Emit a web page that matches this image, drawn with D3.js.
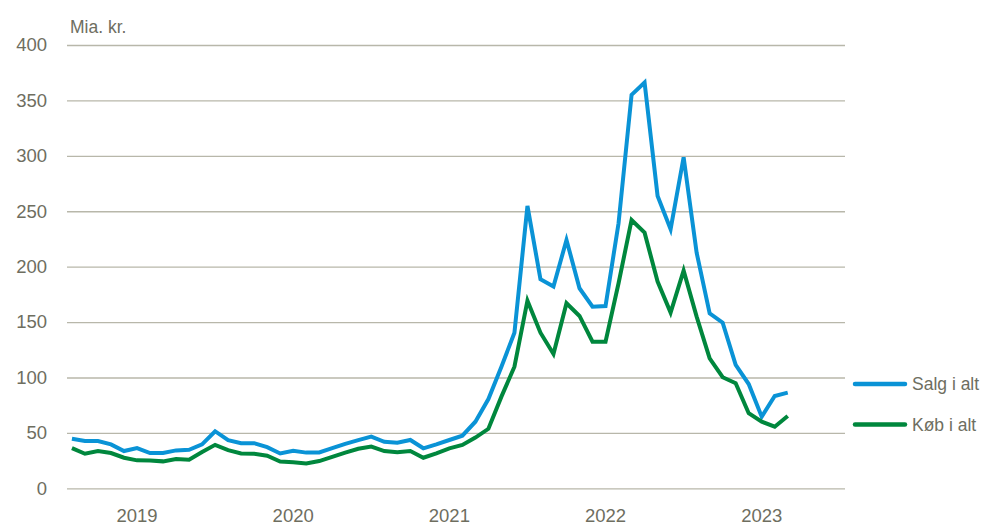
<!DOCTYPE html>
<meta charset="UTF-8">
<style>
body { margin: 0; background: #fff; }
text { font-family: "Liberation Sans", Arial, sans-serif; fill: #6e6e5f; }
.grid line { stroke: #b8b7aa; stroke-width: 1.3px; }
.series { fill: none; stroke-width: 4px; stroke-linejoin: miter; }
</style>
<body>
<script src="https://d3js.org/d3.v7.min.js"></script>
<script>

// monthly, Aug 2018 .. Mar 2023
var startMonth = new Date(2018, 7, 1);
var yearLabels = ["2019", "2020", "2021", "2022", "2023"];
var yTicks = [0, 50, 100, 150, 200, 250, 300, 350, 400];

var salg = [44.7, 42.6, 42.6, 39.6, 33.6, 36.3, 31.8, 31.8, 34.2, 34.8, 39.6, 51.5,
            43.4, 40.7, 40.7, 37.1, 31.4, 33.8, 32.2, 32.3, 36.2, 40.1, 43.5, 46.6,
            42.0, 41.2, 43.6, 36.1, 39.7, 43.6, 47.5, 60.1, 80.5, 109.7, 140.4, 254.8,
            188.6, 182.0, 224.1, 180.5, 163.9, 164.5, 239.2, 355.0, 366.1, 263.8, 233.8, 298.7,
            212.6, 157.9, 149.5, 111.3, 94.1, 64.6, 83.3, 86.3];
var koeb = [36.3, 31.2, 33.6, 31.8, 27.6, 25.2, 25.0, 24.3, 26.4, 25.8, 32.7, 39.2,
            34.4, 31.4, 31.1, 29.4, 24.1, 23.4, 22.4, 24.6, 28.4, 32.2, 35.7, 37.6,
            33.6, 32.5, 33.7, 27.6, 31.6, 36.1, 39.1, 45.8, 53.7, 82.7, 109.7, 169.3,
            140.4, 121.2, 167.0, 155.5, 132.3, 132.2, 185.0, 242.1, 230.7, 186.5, 158.5, 196.4,
            154.9, 117.3, 100.2, 94.8, 67.7, 60.1, 55.6, 65.3];

var seriesNames = ["Salg i alt", "Køb i alt"];
var seriesColors = ["#0a93d6", "#00873d"];

var months = d3.timeMonth.range(startMonth, d3.timeMonth.offset(startMonth, salg.length));

var W = 982, H = 524;
var plotLeft = 67, plotRight = 845, plotTop = 45, plotBottom = 488.3;

var svg = d3.select("body").append("svg")
    .attr("width", W)
    .attr("height", H);

var x = d3.scaleLinear()
    .domain([-0.38, 59.4])
    .range([plotLeft, plotRight]);

var y = d3.scaleLinear()
    .domain([0, 400])
    .range([plotBottom, plotTop]);

// horizontal gridlines + y labels
var yAxis = svg.append("g")
    .attr("class", "grid")
    .attr("transform", "translate(" + plotLeft + ",0)")
    .call(d3.axisLeft(y).tickValues(yTicks).tickSize(-(plotRight - plotLeft)).tickPadding(20));
yAxis.select(".domain").remove();
yAxis.selectAll("text")
    .style("font-size", "18.5px")
    .style("font-family", "'Liberation Sans', Arial, sans-serif")
    .attr("fill", "#6e6e5f");

svg.append("text")
    .attr("x", 70)
    .attr("y", 32.5)
    .style("font-size", "17.5px")
    .text("Mia. kr.");

// year labels at the January of each year
var janIdx = months.map(function(d, i) { return d.getMonth() === 0 ? i : -1; })
    .filter(function(i) { return i >= 0; });
svg.selectAll(".year")
    .data(janIdx)
    .enter().append("text")
    .attr("class", "year")
    .attr("x", function(i) { return x(i); })
    .attr("y", 521.5)
    .attr("text-anchor", "middle")
    .style("font-size", "18.5px")
    .text(function(d, k) { return yearLabels[k]; });

var line = d3.line()
    .x(function(d, i) { return x(i); })
    .y(function(d) { return y(d); });

[salg, koeb].forEach(function(s, k) {
  svg.append("path")
      .datum(s)
      .attr("class", "series")
      .attr("stroke", seriesColors[k])
      .attr("d", line);
});

// legend
var legend = svg.selectAll(".legend")
    .data(seriesNames)
    .enter().append("g")
    .attr("class", "legend")
    .attr("transform", function(d, i) { return "translate(855," + (384 + i * 40.5) + ")"; });

legend.append("line")
    .attr("x1", 0).attr("x2", 50)
    .attr("stroke", function(d, i) { return seriesColors[i]; })
    .attr("stroke-width", 4.5)
    .attr("stroke-linecap", "round");

legend.append("text")
    .attr("x", 57)
    .attr("dy", "0.35em")
    .style("font-size", "17.5px")
    .text(function(d) { return d; });

</script>
</body>
